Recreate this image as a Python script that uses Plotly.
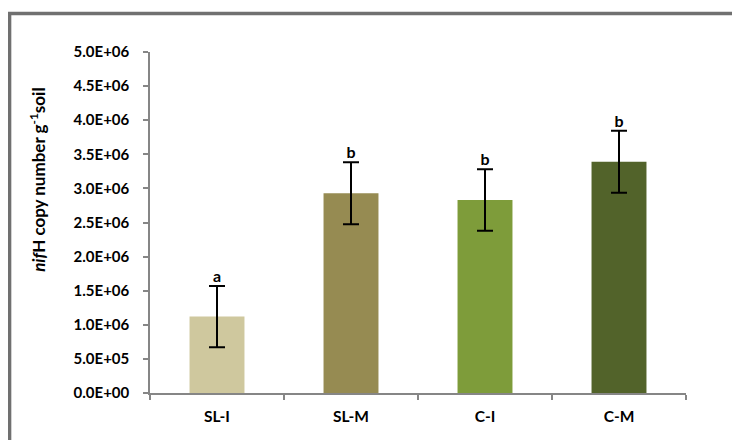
import plotly.graph_objects as go

categories = ["SL-I", "SL-M", "C-I", "C-M"]
means = [1.12e6, 2.93e6, 2.83e6, 3.39e6]
errors = [0.45e6, 0.455e6, 0.45e6, 0.455e6]
letters = ["a", "b", "b", "b"]
bar_colors = ["#CFC89E", "#968B52", "#7E9C3A", "#52632A"]
y_tick_values = [0, 5e5, 1e6, 1.5e6, 2e6, 2.5e6, 3e6, 3.5e6, 4e6, 4.5e6, 5e6]
y_tick_labels = ["0.0E+00", "5.0E+05", "1.0E+06", "1.5E+06", "2.0E+06", "2.5E+06",
                 "3.0E+06", "3.5E+06", "4.0E+06", "4.5E+06", "5.0E+06"]
y_title = "<i>nif</i>H copy number g<sup>-1</sup>soil"

FONT = "Lato, Open Sans, sans-serif"

fig = go.Figure()
fig.add_trace(go.Bar(
    x=categories, y=means,
    marker=dict(color=bar_colors, line=dict(width=0)),
    error_y=dict(type="data", array=errors, visible=True, color="black", thickness=2, width=8),
    width=0.41,
    showlegend=False,
))
fig.add_trace(go.Scatter(
    x=categories, y=[m + e for m, e in zip(means, errors)],
    mode="text", text=letters, textposition="top center",
    textfont=dict(family=FONT, size=16, color="black", weight="bold"),
    showlegend=False, hoverinfo="skip",
))

fig.update_layout(
    width=732, height=432,
    margin=dict(l=142, r=54, t=43.5, b=46.5),
    plot_bgcolor="white", paper_bgcolor="white",
    font=dict(family=FONT, color="black"),
    xaxis=dict(
        showline=True, linecolor="#868686", linewidth=1.5,
        ticks="outside", ticklen=5, tickcolor="#868686", tickwidth=1.5,
        tickson="boundaries", showgrid=False, ticklabelstandoff=9,
        automargin=False,
        tickfont=dict(family=FONT, size=15.5, color="black", weight="bold"),
    ),
    yaxis=dict(
        range=[0, 5e6],
        tickvals=y_tick_values, ticktext=y_tick_labels,
        showline=True, linecolor="#868686", linewidth=1.5,
        ticks="outside", ticklen=5, tickcolor="#868686", tickwidth=1.5,
        showgrid=False, zeroline=False, ticklabelstandoff=11,
        automargin=False,
        tickfont=dict(family=FONT, size=15, color="black", weight="bold"),
    ),
    annotations=[dict(
        text=y_title, textangle=-90, showarrow=False,
        xref="paper", yref="paper", x=-0.209, y=0.625,
        xanchor="center", yanchor="middle",
        font=dict(family=FONT, size=17, color="black", weight="bold"),
    )],
    shapes=[dict(type="rect", xref="paper", yref="paper",
                 x0=-0.262, x1=1.11, y0=-0.15, y1=1.1126,
                 line=dict(color="#707070", width=3.5), fillcolor="rgba(0,0,0,0)",
                 layer="below")],
)

fig.write_html("out.html")
